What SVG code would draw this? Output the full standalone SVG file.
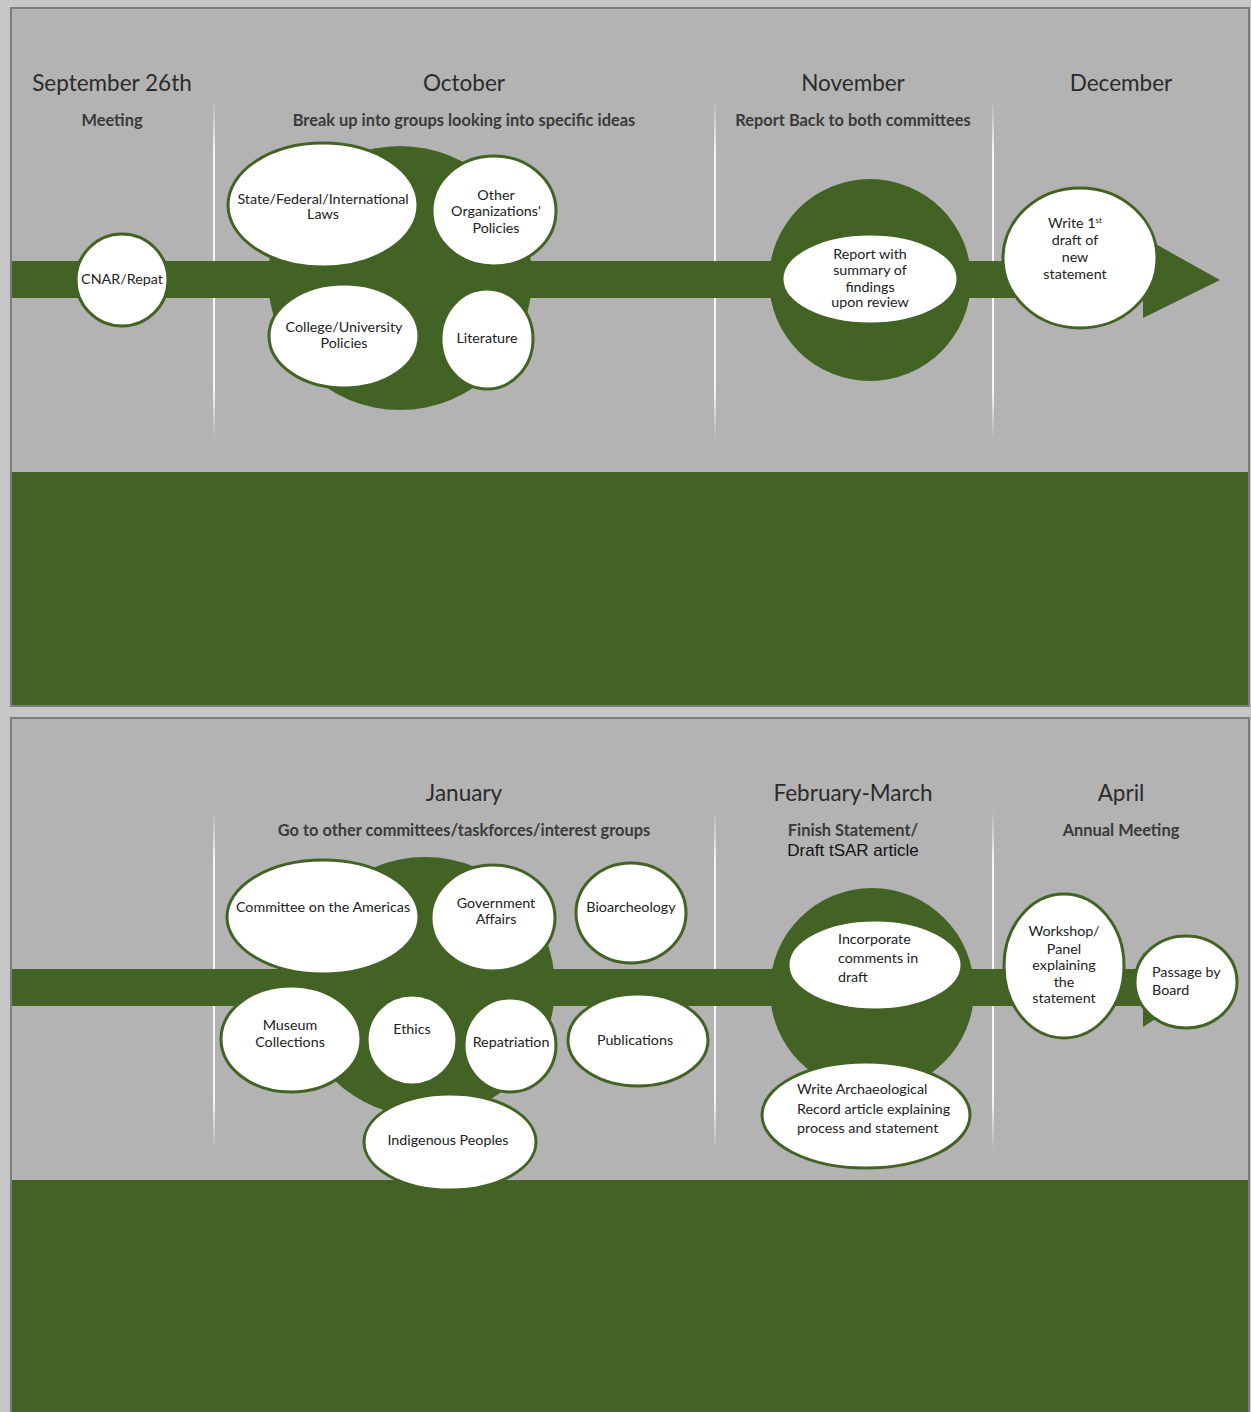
<svg xmlns="http://www.w3.org/2000/svg" width="1251" height="1412" viewBox="0 0 1251 1412">
<defs>
<style>
.panel{fill:#b3b3b3;stroke:#7c7c7c;stroke-width:2}
.green{fill:#436325}
.node{fill:#ffffff;stroke:#436325;stroke-width:3}
.blob{fill:#436325}
.div{stroke:url(#fade);stroke-width:2;fill:none}
.h1{font-family:Lato,"Liberation Sans",sans-serif;font-size:22.5px;fill:#2b2b2b;text-anchor:middle}
.h2{font-family:Lato,"Liberation Sans",sans-serif;font-size:16.4px;font-weight:bold;fill:#3a3a3a;text-anchor:middle}
.t{font-family:Lato,"Liberation Sans",sans-serif;font-size:14.3px;fill:#222;text-anchor:middle}
.tl{font-family:Lato,"Liberation Sans",sans-serif;font-size:14.3px;fill:#222}
.plain{font-family:"Liberation Sans",Arial,sans-serif;font-size:17px;fill:#111;text-anchor:middle}
</style>
<linearGradient id="fade" x1="0" y1="0" x2="0" y2="1">
<stop offset="0" stop-color="#ffffff" stop-opacity="0"/>
<stop offset="0.15" stop-color="#ffffff" stop-opacity="0.9"/>
<stop offset="0.85" stop-color="#ffffff" stop-opacity="0.9"/>
<stop offset="1" stop-color="#ffffff" stop-opacity="0"/>
</linearGradient>
</defs>
<rect x="0" y="0" width="1251" height="1412" fill="#c6c6c6"/>

<!-- top panel -->
<rect class="panel" x="11" y="8" width="1238" height="698"/>
<rect class="green" x="12" y="472" width="1236" height="233"/>
<!-- bottom panel -->
<rect class="panel" x="11" y="718" width="1238" height="710"/>
<rect class="green" x="12" y="1180" width="1236" height="232"/>

<!-- dividers -->
<g id="dividers">
<line class="div" x1="214" y1="100" x2="214.01" y2="440"/>
<line class="div" x1="715" y1="100" x2="715.01" y2="440"/>
<line class="div" x1="993" y1="100" x2="993.01" y2="440"/>
<line class="div" x1="214" y1="810" x2="214.01" y2="1150"/>
<line class="div" x1="715" y1="810" x2="715.01" y2="1150"/>
<line class="div" x1="993" y1="810" x2="993.01" y2="1150"/>
</g>

<!-- headers -->
<g id="headers">
<text class="h1" x="112" y="91">September 26th</text>
<text class="h2" x="112" y="126">Meeting</text>
<text class="h1" x="464" y="91">October</text>
<text class="h2" x="464" y="126">Break up into groups looking into specific ideas</text>
<text class="h1" x="853" y="91">November</text>
<text class="h2" x="853" y="126">Report Back to both committees</text>
<text class="h1" x="1121" y="91">December</text>
<text class="h1" x="464" y="801">January</text>
<text class="h2" x="464" y="836">Go to other committees/taskforces/interest groups</text>
<text class="h1" x="853" y="801">February-March</text>
<text class="h2" x="853" y="836">Finish Statement/</text>
<text class="plain" x="853" y="856">Draft tSAR article</text>
<text class="h1" x="1121" y="801">April</text>
<text class="h2" x="1121" y="836">Annual Meeting</text>
</g>

<!-- connectors: timeline bands and arrows -->
<g id="connectors">
<rect class="green" x="12" y="261" width="1135" height="37"/>
<polygon class="green" points="1143,237 1220,280 1143,318"/>
<rect class="green" x="12" y="969" width="1135" height="37"/>
<polygon class="green" points="1143,953 1200,990 1143,1027"/>
</g>

<!-- top panel nodes -->
<g id="n-cnar">
<circle class="node" cx="122" cy="280" r="46"/>
<text class="t" x="122" y="284">CNAR/Repat</text>
</g>
<g id="n-october-hub">
<circle class="blob" cx="400" cy="278" r="132"/>
</g>
<g id="n-laws">
<ellipse class="node" cx="323" cy="205" rx="95" ry="62"/>
<text class="t" x="323" y="204">State/Federal/International</text>
<text class="t" x="323" y="219">Laws</text>
</g>
<g id="n-orgs">
<ellipse class="node" cx="494" cy="211" rx="62" ry="55"/>
<text class="t" x="496" y="200">Other</text>
<text class="t" x="496" y="216">Organizations'</text>
<text class="t" x="496" y="233">Policies</text>
</g>
<g id="n-college">
<ellipse class="node" cx="344" cy="336" rx="75" ry="52"/>
<text class="t" x="344" y="332">College/University</text>
<text class="t" x="344" y="348">Policies</text>
</g>
<g id="n-literature">
<ellipse class="node" cx="487" cy="339" rx="46" ry="50"/>
<text class="t" x="487" y="343">Literature</text>
</g>
<g id="n-report">
<circle class="blob" cx="870" cy="280" r="101"/>
<ellipse class="node" cx="870" cy="279" rx="88" ry="45"/>
<text class="t" x="870" y="259">Report with</text>
<text class="t" x="870" y="275">summary of</text>
<text class="t" x="870" y="292">findings</text>
<text class="t" x="870" y="307">upon review</text>
</g>
<g id="n-draft">
<ellipse class="node" cx="1080" cy="258" rx="77" ry="70"/>
<text class="t" x="1075" y="228">Write 1<tspan font-size="8" dy="-5">st</tspan></text>
<text class="t" x="1075" y="245">draft of</text>
<text class="t" x="1075" y="262">new</text>
<text class="t" x="1075" y="279">statement</text>
</g>

<!-- bottom panel nodes -->
<g id="n-january-hub">
<circle class="blob" cx="425" cy="987" r="130"/>
</g>
<g id="n-americas">
<ellipse class="node" cx="323" cy="917" rx="96" ry="57"/>
<text class="t" x="323" y="912">Committee on the Americas</text>
</g>
<g id="n-gov">
<ellipse class="node" cx="493" cy="918" rx="62" ry="53"/>
<text class="t" x="496" y="908">Government</text>
<text class="t" x="496" y="924">Affairs</text>
</g>
<g id="n-bio">
<ellipse class="node" cx="631" cy="913" rx="55" ry="50"/>
<text class="t" x="631" y="912">Bioarcheology</text>
</g>
<g id="n-museum">
<ellipse class="node" cx="291" cy="1039" rx="70" ry="53"/>
<text class="t" x="290" y="1030">Museum</text>
<text class="t" x="290" y="1047">Collections</text>
</g>
<g id="n-ethics">
<circle class="node" cx="412" cy="1040" r="45"/>
<text class="t" x="412" y="1034">Ethics</text>
</g>
<g id="n-repat">
<ellipse class="node" cx="510" cy="1045" rx="46" ry="47"/>
<text class="t" x="511" y="1047">Repatriation</text>
</g>
<g id="n-pub">
<ellipse class="node" cx="638" cy="1040" rx="70" ry="46"/>
<text class="t" x="635" y="1045">Publications</text>
</g>
<g id="n-indig">
<ellipse class="node" cx="450" cy="1142" rx="86" ry="48"/>
<text class="t" x="448" y="1145">Indigenous Peoples</text>
</g>
<g id="n-incorp">
<circle class="blob" cx="872" cy="990" r="102"/>
<ellipse class="node" cx="875" cy="965" rx="87" ry="45"/>
<text class="tl" x="838" y="944">Incorporate</text>
<text class="tl" x="838" y="963">comments in</text>
<text class="tl" x="838" y="982">draft</text>
</g>
<g id="n-write">
<ellipse class="node" cx="866" cy="1115" rx="104" ry="53"/>
<text class="tl" x="797" y="1094">Write Archaeological</text>
<text class="tl" x="797" y="1114">Record article explaining</text>
<text class="tl" x="797" y="1133">process and statement</text>
</g>
<g id="n-workshop">
<ellipse class="node" cx="1064" cy="966" rx="60" ry="72"/>
<text class="t" x="1064" y="936">Workshop/</text>
<text class="t" x="1064" y="954">Panel</text>
<text class="t" x="1064" y="970">explaining</text>
<text class="t" x="1064" y="987">the</text>
<text class="t" x="1064" y="1003">statement</text>
</g>
<g id="n-passage">
<ellipse class="node" cx="1186" cy="982" rx="51" ry="46"/>
<text class="tl" x="1152" y="977">Passage by</text>
<text class="tl" x="1152" y="995">Board</text>
</g>
</svg>
